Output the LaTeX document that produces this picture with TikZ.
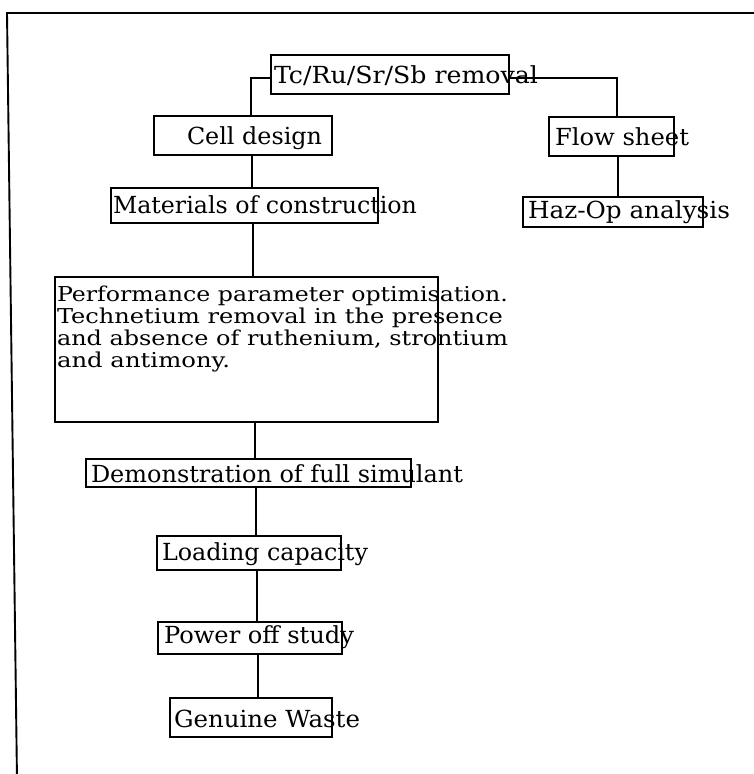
\documentclass[tikz,border=0pt]{standalone}
\usepackage{fontspec}
\setmainfont{DejaVu Serif}
\usepackage{graphicx}
\usetikzlibrary{calc}
\newcommand{\fitw}[2]{\resizebox{#1pt}{\height}{#2}}
\tikzset{
  box/.style={draw, line width=1.3pt, inner sep=0pt, outer sep=0pt, anchor=north west},
  lbl/.style={inner sep=0pt, outer sep=0pt, anchor=base west, font=\fontsize{23.5}{28}\selectfont},
  ptx/.style={inner sep=0pt, outer sep=0pt, anchor=base west, font=\fontsize{20.5}{22}\selectfont},
  link/.style={line width=1.1pt},
  frameline/.style={line width=1.9pt}
}
\begin{document}
\begin{tikzpicture}[x=1pt,y=-1pt]
\useasboundingbox (0,0) rectangle (753,774);
\fill[white] (0,0) rectangle (753,774);
\draw[frameline] (760,13) -- (7,13) -- (17,780);

% boxes
\node[box, minimum width=238pt, minimum height=39pt] (tc) at (271,55) {};
\node[box, minimum width=178pt, minimum height=39pt] (cell) at (154,116) {};
\node[box, minimum width=267pt, minimum height=35pt] (mat) at (111,188) {};
\node[box, minimum width=125pt, minimum height=39pt] (flow) at (549,117) {};
\node[box, minimum width=180pt, minimum height=30pt] (haz) at (523,197) {};
\node[box, minimum width=383pt, minimum height=145pt] (perf) at (55,277) {};
\node[box, minimum width=325pt, minimum height=28pt] (demo) at (86,459) {};
\node[box, minimum width=184pt, minimum height=34pt] (load) at (157,536) {};
\node[box, minimum width=184pt, minimum height=32pt] (power) at (158,622) {};
\node[box, minimum width=162pt, minimum height=39pt] (gen) at (170,698) {};

% labels
\node[lbl] (tcT) at (274,83) {\fitw{264}{Tc/Ru/Sr/Sb removal}};
\node[lbl] (cellT) at (187,144) {\fitw{135}{Cell design}};
\node[lbl] (matT) at (113,213) {\fitw{304}{Materials of construction}};
\node[lbl] (flowT) at (555,145) {\fitw{134}{Flow sheet}};
\node[lbl] (hazT) at (528,218) {\fitw{202}{Haz-Op analysis}};
\node[ptx] (p1) at (57,301) {\fitw{451}{Performance parameter optimisation.}};
\node[ptx] (p2) at (57,323) {\fitw{446}{Technetium removal in the presence}};
\node[ptx] (p3) at (57,345) {\fitw{451}{and absence of ruthenium, strontium}};
\node[ptx] (p4) at (57,367) {\fitw{173}{and antimony.}};
\node[lbl] (demoT) at (91,482) {\fitw{372}{Demonstration of full simulant}};
\node[lbl] (loadT) at (162,560) {\fitw{206}{Loading capacity}};
\node[lbl] (powerT) at (164,643) {\fitw{190}{Power off study}};
\node[lbl] (genT) at (174,727) {\fitw{186}{Genuine Waste}};

% connectors
\draw[link] ($(tc.north west)+(0,23)$) -| ($(cell.north west)+(97,0)$);
\draw[link] ($(tc.north east)+(0,23)$) -| ($(flow.north west)+(68,0)$);
\draw[link] ($(cell.south west)+(98,0)$) -- ($(mat.north west)+(141,0)$);
\draw[link] ($(flow.south west)+(69,0)$) -- ($(haz.north west)+(95,0)$);
\draw[link] ($(mat.south west)+(142,0)$) -- ($(perf.north west)+(198,0)$);
\draw[link] ($(perf.south west)+(200,0)$) -- ($(demo.north west)+(169,0)$);
\draw[link] ($(demo.south west)+(170,0)$) -- ($(load.north west)+(99,0)$);
\draw[link] ($(load.south west)+(100,0)$) -- ($(power.north west)+(99,0)$);
\draw[link] ($(power.south west)+(100,0)$) -- ($(gen.north west)+(88,0)$);
\end{tikzpicture}
\end{document}
